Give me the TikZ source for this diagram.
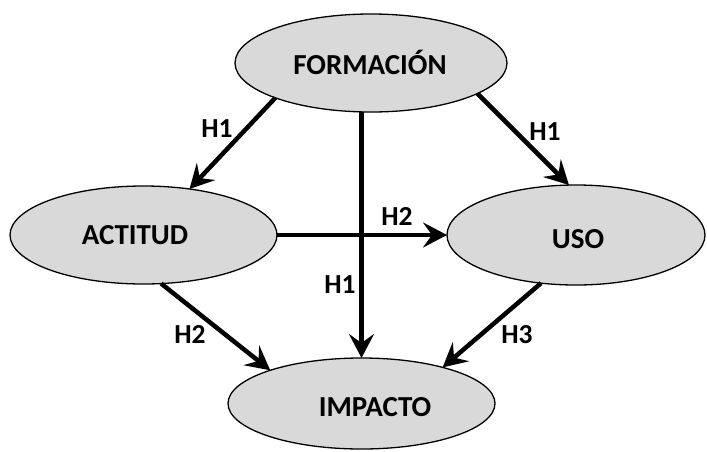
\documentclass[tikz,border=0pt]{standalone}
\usepackage{fontspec}
\setmainfont{Carlito}[BoldFont={Carlito Bold}]
\usetikzlibrary{shapes.geometric,arrows.meta}
\definecolor{ellfill}{HTML}{D9D9D9}
\tikzset{
  ell/.style={ellipse, draw=black, line width=1.3pt, fill=ellfill, inner sep=0pt, outer sep=0pt},
  ntext/.style={anchor=base, font=\fontsize{29}{31}\selectfont\bfseries, inner sep=0pt},
  hlab/.style={anchor=base, font=\fontsize{27.5}{29}\selectfont\bfseries, inner sep=0pt},
  conn/.style={line width=4.5pt, -{Stealth[length=24pt, width=25pt, inset=9pt]}}
}
\begin{document}
\begin{tikzpicture}[x=1pt, y=-1pt]
\useasboundingbox (0,0) rectangle (707,451);
\node[ell, minimum width=272pt, minimum height=98pt] (F) at (371,63) {};
\node[ell, minimum width=267pt, minimum height=98pt] (A) at (143.5,235) {};
\node[ell, minimum width=258pt, minimum height=100pt] (U) at (576,235) {};
\node[ell, minimum width=267pt, minimum height=91pt] (I) at (361.5,403.5) {};
\node[ntext] (tF) at (370,74) {FORMACIÓN};
\node[ntext] (tA) at (135,244) {ACTITUD};
\node[ntext] (tU) at (578,248) {USO};
\node[ntext] (tI) at (375,416) {IMPACTO};
\draw[conn] (F.200.4) -- (A.45.9);
\draw[conn] (F.344.1) -- (U.98.1);
\draw[conn] (F.south -| I.north) -- (I.north);
\draw[conn] (A.east) -- (U.west);
\draw[conn] (A.290.6) -- (I.160.5);
\draw[conn] (U.234.7) -- (I.24.8);
\node[hlab] (l1) at (217,137) {H1};
\node[hlab] (l2) at (545,140) {H1};
\node[hlab] (l3) at (340,293) {H1};
\node[hlab] (l4) at (397,225) {H2};
\node[hlab] (l5) at (190,343) {H2};
\node[hlab] (l6) at (517,343) {H3};
\end{tikzpicture}
\end{document}
